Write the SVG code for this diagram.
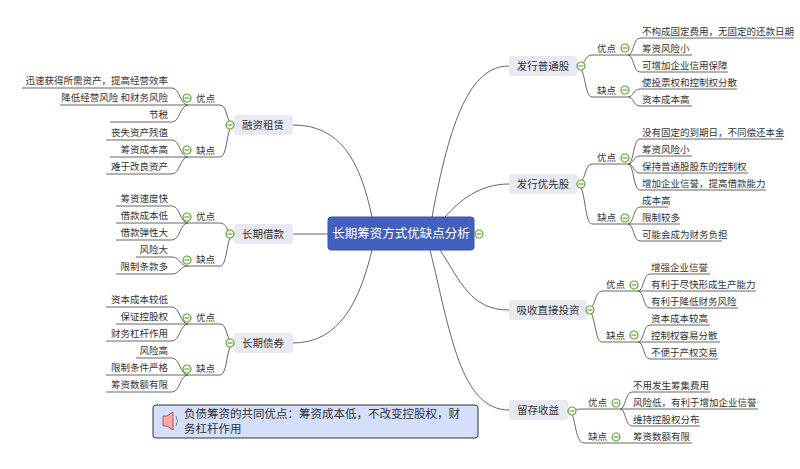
<svg xmlns="http://www.w3.org/2000/svg" width="800" height="469" viewBox="0 0 800 469">
<style>
text{font-family:"Noto Sans CJK SC","Liberation Sans",sans-serif;font-size:9.5px;fill:#333}
.c{stroke:#666;fill:none;stroke-width:1}
.n{fill:#E9E9F1;rx:3}
.t{font-size:10.5px;text-anchor:middle}
.e{text-anchor:end}
.o{fill:#fff;stroke:#5FA82F;stroke-width:1.2}
.om{stroke:#5FA82F;stroke-width:1.2}
</style>
<defs>
<g id="col"><circle class="o" r="4"/><line class="om" x1="-2.5" x2="2.5"/></g>
</defs>
<rect width="800" height="469" fill="#fff"/>
<g id="connectors">
<path class="c" d="M293 125 C340 125,360 160,372 217"/>
<path class="c" d="M293 234 H328"/>
<path class="c" d="M293 343 C340 343,360 300,372 250"/>
<path class="c" d="M509 66 C470 66,450 120,432 217"/>
<path class="c" d="M509 184 C480 184,460 200,445 217"/>
<path class="c" d="M509 310 C470 310,460 280,440 250"/>
<path class="c" d="M509 410 C460 410,450 330,430 250"/>
<path class="c" d="M234 125 C226 125,228 105,220 105 H188 M234 125 C226 125,228 157,220 157 H188"/>
<path class="c" d="M22 88 H172 C180 88,180 105,188 105 M60 105 H188 M110 122 H172 C180 122,180 105,188 105"/>
<path class="c" d="M106 140 H172 C180 140,180 157,188 157 M110 157 H188 M106 174 H172 C180 174,180 157,188 157"/>
<path class="c" d="M234 234 C226 234,228 223,220 223 H188 M234 234 C226 234,228 266,220 266 H188"/>
<path class="c" d="M116 206 H172 C180 206,180 223,188 223 M116 223 H188 M116 240 H172 C180 240,180 223,188 223"/>
<path class="c" d="M136 257 H172 C180 257,180 266,188 266 M116 274 H172 C180 274,180 266,188 266"/>
<path class="c" d="M234 343 C226 343,228 324,220 324 H188 M234 343 C226 343,228 375,220 375 H188"/>
<path class="c" d="M106 307 H172 C180 307,180 324,188 324 M116 324 H188 M106 341 H172 C180 341,180 324,188 324"/>
<path class="c" d="M136 358 H172 C180 358,180 375,188 375 M106 375 H188 M106 392 H172 C180 392,180 375,188 375"/>
<path class="c" d="M577 66 C586 66,584 55,592 55 H628 M577 66 C586 66,584 97,592 97 H628"/>
<path class="c" d="M628 55 C634 55,633 38,640 38 H794 M628 55 H692 M628 55 C634 55,633 72,640 72 H728"/>
<path class="c" d="M628 97 C634 97,633 89,640 89 H737 M628 97 C634 97,633 106,640 106 H692"/>
<path class="c" d="M577 184 C586 184,584 164,592 164 H628 M577 184 C586 184,584 224,592 224 H628"/>
<path class="c" d="M628 164 C634 164,633 139,640 139 H783 M628 164 C634 164,633 156,640 156 H692 M628 164 C634 164,633 173,640 173 H748 M628 164 C634 164,633 190,640 190 H766"/>
<path class="c" d="M628 224 C634 224,633 207,640 207 H668 M628 224 H680 M628 224 C634 224,633 241,640 241 H722"/>
<path class="c" d="M587 310 C596 310,594 291,602 291 H638 M587 310 C596 310,594 342,602 342 H638"/>
<path class="c" d="M638 291 C644 291,643 274,650 274 H710 M638 291 H756 M638 291 C644 291,643 308,650 308 H738"/>
<path class="c" d="M638 342 C644 342,643 325,650 325 H710 M638 342 H720 M638 342 C644 342,643 359,650 359 H718"/>
<path class="c" d="M568 410 C576 410,576 409,582 409 H620 M568 410 C576 410,574 443,584 443 H620"/>
<path class="c" d="M620 409 C626 409,625 392,632 392 H710 M620 409 H758 M620 409 C626 409,625 426,632 426 H700"/>
<path class="c" d="M620 443 H692"/>
</g>
<g id="central">
<rect x="328" y="217" width="146" height="33" rx="3" fill="#4361BC" stroke="#3A55A8"/>
<text x="401" y="238" text-anchor="middle" style="font-size:12.5px;fill:#fff">长期筹资方式优缺点分析</text>
<use href="#col" x="479" y="234"/>
</g>
<g id="rzzl">
<rect class="n" x="234" y="115" width="59" height="20"/><text class="t" x="263" y="129">融资租赁</text>
<use href="#col" x="230" y="125"/>
<text x="196" y="102">优点</text><use href="#col" x="187" y="98"/>
<text class="e" x="168" y="84">迅速获得所需资产，提高经营效率</text>
<text class="e" x="168" y="101">降低经营风险 和财务风险</text>
<text class="e" x="168" y="118">节税</text>
<text x="196" y="154">缺点</text><use href="#col" x="187" y="150"/>
<text class="e" x="168" y="136">丧失资产残值</text>
<text class="e" x="168" y="153">筹资成本高</text>
<text class="e" x="168" y="170">难于改良资产</text>
</g>
<g id="cqjk">
<rect class="n" x="234" y="224" width="59" height="20"/><text class="t" x="263" y="238">长期借款</text>
<use href="#col" x="230" y="234"/>
<text x="196" y="220">优点</text><use href="#col" x="187" y="217"/>
<text class="e" x="168" y="202">筹资速度快</text>
<text class="e" x="168" y="219">借款成本低</text>
<text class="e" x="168" y="236">借款弹性大</text>
<text x="196" y="263">缺点</text><use href="#col" x="187" y="260"/>
<text class="e" x="168" y="253">风险大</text>
<text class="e" x="168" y="270">限制条款多</text>
</g>
<g id="cqzq">
<rect class="n" x="234" y="333" width="59" height="20"/><text class="t" x="263" y="347">长期债券</text>
<use href="#col" x="230" y="343"/>
<text x="196" y="321">优点</text><use href="#col" x="187" y="318"/>
<text class="e" x="168" y="303">资本成本较低</text>
<text class="e" x="168" y="320">保证控股权</text>
<text class="e" x="168" y="337">财务杠杆作用</text>
<text x="196" y="372">缺点</text><use href="#col" x="187" y="369"/>
<text class="e" x="168" y="354">风险高</text>
<text class="e" x="168" y="371">限制条件严格</text>
<text class="e" x="168" y="388">筹资数额有限</text>
</g>
<g id="fxptg">
<rect class="n" x="509" y="56" width="68" height="20"/><text class="t" x="543" y="70">发行普通股</text>
<use href="#col" x="581" y="66"/>
<text x="597" y="52">优点</text><use href="#col" x="625" y="48"/>
<text x="642" y="35">不构成固定费用，无固定的还款日期</text>
<text x="642" y="52">筹资风险小</text>
<text x="642" y="69">可增加企业信用保障</text>
<text x="597" y="94">缺点</text><use href="#col" x="625" y="90"/>
<text x="642" y="86">使投票权和控制权分散</text>
<text x="642" y="103">资本成本高</text>
</g>
<g id="fxyxg">
<rect class="n" x="509" y="174" width="68" height="20"/><text class="t" x="543" y="188">发行优先股</text>
<use href="#col" x="581" y="184"/>
<text x="597" y="161">优点</text><use href="#col" x="625" y="158"/>
<text x="642" y="136">没有固定的到期日，不同偿还本金</text>
<text x="642" y="153">筹资风险小</text>
<text x="642" y="170">保持普通股股东的控制权</text>
<text x="642" y="187">增加企业信誉，提高借款能力</text>
<text x="597" y="221">缺点</text><use href="#col" x="625" y="218"/>
<text x="642" y="204">成本高</text>
<text x="642" y="221">限制较多</text>
<text x="642" y="238">可能会成为财务负担</text>
</g>
<g id="xszjtz">
<rect class="n" x="509" y="300" width="78" height="20"/><text class="t" x="548" y="314">吸收直接投资</text>
<use href="#col" x="590" y="310"/>
<text x="606" y="288">优点</text><use href="#col" x="634" y="285"/>
<text x="651" y="271">增强企业信誉</text>
<text x="651" y="288">有利于尽快形成生产能力</text>
<text x="651" y="305">有利于降低财务风险</text>
<text x="606" y="339">缺点</text><use href="#col" x="634" y="335"/>
<text x="651" y="322">资本成本较高</text>
<text x="651" y="339">控制权容易分散</text>
<text x="651" y="356">不便于产权交易</text>
</g>
<g id="lcsy">
<rect class="n" x="509" y="400" width="59" height="20"/><text class="t" x="538" y="414">留存收益</text>
<use href="#col" x="572" y="411"/>
<text x="588" y="406">优点</text><use href="#col" x="616" y="403"/>
<text x="633" y="389">不用发生筹集费用</text>
<text x="633" y="406">风险低，有利于增加企业信誉</text>
<text x="633" y="423">维持控股权分布</text>
<text x="588" y="440">缺点</text><use href="#col" x="616" y="437"/>
<text x="633" y="440">筹资数额有限</text>
</g>
<g id="note">
<rect x="153" y="405" width="325" height="33" rx="3" fill="#D3DFFB" stroke="#333"/>
<path d="M163 416 h4 l6 -4 v18 l-6 -4 h-4 z" fill="#F3A9A4" stroke="#B55"/>
<path d="M176 416 q3 5 0 10" fill="none" stroke="#888"/>
<text x="184" y="418" style="font-size:11.5px">负债筹资的共同优点：筹资成本低，不改变控股权，财</text>
<text x="184" y="433" style="font-size:11.5px">务杠杆作用</text>
</g>
</svg>
